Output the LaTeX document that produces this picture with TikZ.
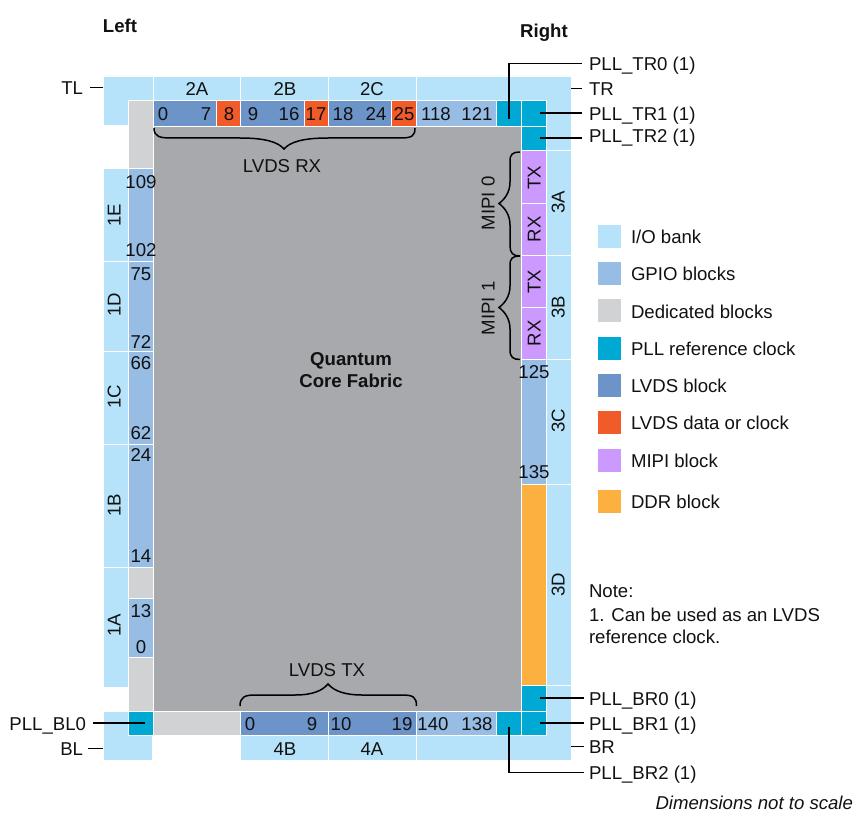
\documentclass[tikz,border=0pt]{standalone}
\usepackage{fontspec}
\setmainfont{Liberation Sans}
\definecolor{iob}{HTML}{B6E3F9}
\definecolor{gpio}{HTML}{97BDE5}
\definecolor{ded}{HTML}{D0D2D3}
\definecolor{pll}{HTML}{00A9D4}
\definecolor{lvds}{HTML}{6D94C8}
\definecolor{dat}{HTML}{F15A29}
\definecolor{mipi}{HTML}{CC99FF}
\definecolor{ddr}{HTML}{FBB040}
\definecolor{core}{HTML}{A7A9AC}
\definecolor{ink}{HTML}{111111}
\tikzset{
  cellbox/.style={draw=white,line width=0.8pt,inner sep=0pt,outer sep=0pt,anchor=center},
  poly/.style={draw=white,line width=0.8pt},
  txt/.style={inner sep=0pt,outer sep=0pt,yshift=-0.5pt,font=\fontsize{18.6}{22}\selectfont,text=ink,text height=13.3pt,text depth=0pt},
  num/.style={txt},
  vert/.style={txt,rotate=90},
  lab/.style={txt,anchor=west,inner xsep=7pt},
  labb/.style={txt,anchor=west,inner xsep=5pt},
  labl/.style={txt,anchor=east,inner xsep=7pt},
  bold/.style={txt,font=\fontsize{18.6}{22}\selectfont\bfseries},
  conn/.style={draw=black,line width=1.6pt},
  brc/.style={draw=black,line width=1.5pt}
}
\newcommand\cell[6]{\node[cellbox,fill=#6,minimum width={(#4-#2)*1pt},minimum height={(#5-#3)*1pt}] (#1) at ({(#2+#4)/2},{(#3+#5)/2}) {};}
\newcommand\lbl[5][num]{\node[#1] (#2) at (#3,#4) {#5};}
\begin{document}
\begin{tikzpicture}[x=1pt,y=-1pt]
\useasboundingbox (0,0) rectangle (854,813);
% core
\cell{corefab}{153.5}{126}{521.5}{711}{core}
% I/O banks: corners as polygons
\path[poly,fill=iob] (103,76) -- (153,76) -- (153,100.5) -- (128,100.5) -- (128,125) -- (103,125) -- cycle;
\path[poly,fill=iob] (103,711) -- (128,711) -- (128,735.5) -- (152.5,735.5) -- (152.5,760) -- (103,760) -- cycle;
\path[poly,fill=iob] (416.5,76) -- (571,76) -- (571,150.5) -- (546.5,150.5) -- (546.5,100.5) -- (416.5,100.5) -- cycle;
\path[poly,fill=iob] (546.5,685.5) -- (571,685.5) -- (571,760) -- (416.5,760) -- (416.5,735.5) -- (546.5,735.5) -- cycle;
\cell{b2A}{153}{76}{240.5}{100.5}{iob}
\cell{b2B}{240.5}{76}{328.5}{100.5}{iob}
\cell{b2C}{328.5}{76}{416.5}{100.5}{iob}
\cell{b1E}{103}{168.5}{128}{261}{iob}
\cell{b1D}{103}{261}{128}{351.5}{iob}
\cell{b1C}{103}{351.5}{128}{444}{iob}
\cell{b1B}{103}{444}{128}{567.5}{iob}
\cell{b1A}{103}{567.5}{128}{687}{iob}
\cell{b3A}{546.5}{150.5}{571}{255.5}{iob}
\cell{b3B}{546.5}{255.5}{571}{359.5}{iob}
\cell{b3C}{546.5}{359.5}{571}{484}{iob}
\cell{b3D}{546.5}{484}{571}{685.5}{iob}
\cell{b4B}{240.5}{735.5}{328.5}{760}{iob}
\cell{b4A}{328.5}{735.5}{416.5}{760}{iob}
% top row
\cell{dTL}{128}{100.5}{153}{168.5}{ded}
\cell{t0}{153}{100.5}{216}{126}{lvds}
\cell{t8}{216}{100.5}{240.5}{126}{dat}
\cell{t9}{240.5}{100.5}{304}{126}{lvds}
\cell{t17}{304}{100.5}{328.5}{126}{dat}
\cell{t18}{328.5}{100.5}{391.5}{126}{lvds}
\cell{t25}{391.5}{100.5}{416.5}{126}{dat}
\cell{t118}{416.5}{100.5}{496.5}{126}{gpio}
\cell{pTR0}{496.5}{100.5}{521.5}{126}{pll}
\cell{pTR1}{521.5}{100.5}{546.5}{126}{pll}
\cell{pTR2}{521.5}{126}{546.5}{150.5}{pll}
% left column
\cell{gL}{128}{168.5}{153}{261}{gpio}
\cell{gLa}{128}{261}{153}{351.5}{gpio}
\cell{gLb}{128}{351.5}{153}{444}{gpio}
\cell{gLc}{128}{444}{153}{567.5}{gpio}
\cell{dL1}{128}{567.5}{153}{598}{ded}
\cell{gL2}{128}{598}{153}{657.5}{gpio}
\cell{dL2}{128}{657.5}{153}{711}{ded}
\cell{pBL0}{128}{711}{153}{735.5}{pll}
% bottom row
\cell{dB}{153}{711}{240.5}{735.5}{ded}
\cell{l0}{240.5}{711}{328.5}{735.5}{lvds}
\cell{l10}{328.5}{711}{416.5}{735.5}{lvds}
\cell{g140}{416.5}{711}{496.5}{735.5}{gpio}
\cell{pBR2}{496.5}{711}{521.5}{735.5}{pll}
\cell{pBR1}{521.5}{711}{546.5}{735.5}{pll}
\cell{pBR0}{521.5}{685.5}{546.5}{711}{pll}
% right column
\cell{m1}{521.5}{150.5}{546.5}{203.5}{mipi}
\cell{m2}{521.5}{203.5}{546.5}{255.5}{mipi}
\cell{m3}{521.5}{255.5}{546.5}{307.5}{mipi}
\cell{m4}{521.5}{307.5}{546.5}{359.5}{mipi}
\cell{gR}{521.5}{359.5}{546.5}{484}{gpio}
\cell{ddrb}{521.5}{484}{546.5}{685.5}{ddr}
% top numbers
\lbl{n0}{163}{113}{0}\lbl{n7}{206}{113}{7}\lbl{n8}{229}{113}{8}
\lbl{n9}{253}{113}{9}\lbl{n16}{289}{113}{16}\lbl{n17}{316}{113}{17}
\lbl{n18}{343}{113}{18}\lbl{n24}{376}{113}{24}\lbl{n25}{404}{113}{25}
\lbl{n118}{436}{113}{118}\lbl{n121}{477}{113}{121}
% left numbers
\lbl{n109}{141}{181}{109}\lbl{n102}{141}{249}{102}\lbl{n75}{141}{273}{75}
\lbl{n72}{141}{341}{72}\lbl{n66}{141}{362}{66}\lbl{n62}{141}{432}{62}
\lbl{n24b}{141}{454}{24}\lbl{n14}{141}{555}{14}\lbl{n13}{141}{610}{13}\lbl{n0b}{141}{646}{0}
% right numbers
\lbl{n125}{534}{371}{125}\lbl{n135}{534}{471}{135}
% bottom numbers
\lbl{n0c}{250}{723}{0}\lbl{n9b}{312}{723}{9}\lbl{n10}{341}{723}{10}\lbl{n19}{402}{723}{19}
\lbl{n140}{433}{723}{140}\lbl{n138}{477}{723}{138}
% bank labels
\lbl{t2A}{197}{88}{2A}\lbl{t2B}{285}{88}{2B}\lbl{t2C}{372}{88}{2C}
\lbl{t4B}{285}{748}{4B}\lbl{t4A}{372}{748}{4A}
\lbl[vert]{t1E}{114}{215}{1E}\lbl[vert]{t1D}{114}{304}{1D}\lbl[vert]{t1C}{114}{396}{1C}
\lbl[vert]{t1B}{114}{505}{1B}\lbl[vert]{t1A}{114}{625}{1A}
\lbl[vert]{t3A}{558}{202}{3A}\lbl[vert]{t3B}{558}{307}{3B}\lbl[vert]{t3C}{558}{420}{3C}\lbl[vert]{t3D}{558}{584}{3D}
\lbl[vert]{tx0}{534}{177}{TX}\lbl[vert]{rx0}{534}{229}{RX}\lbl[vert]{tx1}{534}{281}{TX}\lbl[vert]{rx1}{534}{333}{RX}
\lbl[vert]{mipi0}{488}{203}{MIPI 0}\lbl[vert]{mipi1}{488}{308}{MIPI 1}
\lbl{lvdsrx}{282}{165}{LVDS RX}\lbl{lvdstx}{327}{669}{LVDS TX}
\lbl[bold]{lefth}{120}{25}{Left}\lbl[bold]{righth}{544}{30}{Right}
\lbl[bold]{q1}{351}{358}{Quantum}\lbl[bold]{q2}{351}{380}{Core Fabric}
% braces
\draw[brc] (154,128) .. controls (154,137) and (160,138) .. (172,138) -- (240,138) .. controls (265,138) and (278,142) .. (284,149) .. controls (290,142) and (303,138) .. (328,138) -- (400,138) .. controls (412,138) and (415,136) .. (415,128);
\draw[brc] (240,706) .. controls (240,697) and (245,695) .. (255,695) -- (295,695) .. controls (312,695) and (322,691) .. (328,684) .. controls (334,691) and (345,695) .. (362,695) -- (402,695) .. controls (413,695) and (416.5,697) .. (416.5,706);
\draw[brc] (520,152) .. controls (513,152) and (510,154) .. (510,161) -- (510,182) .. controls (510,192) and (505,199) .. (499,203.5) .. controls (505,208) and (510,215) .. (510,225) -- (510,246) .. controls (510,253) and (513,256) .. (520,256);
\draw[brc] (520,256) .. controls (513,256) and (510,258) .. (510,265) -- (510,286) .. controls (510,296) and (505,303) .. (499,307.5) .. controls (505,312) and (510,319) .. (510,329) -- (510,350) .. controls (510,357) and (513,359.5) .. (520,359.5);
% external labels
\lbl[lab]{lTR0}{582}{63}{PLL\_TR0 (1)}
\lbl[lab]{lTR}{582}{88}{TR}
\lbl[lab]{lTR1}{582}{113}{PLL\_TR1 (1)}
\lbl[lab]{lTR2}{582}{135}{PLL\_TR2 (1)}
\lbl[labb]{lBR0}{584}{698}{PLL\_BR0 (1)}
\lbl[labb]{lBR1}{584}{723}{PLL\_BR1 (1)}
\lbl[labb]{lBR}{584}{746}{BR}
\lbl[labb]{lBR2}{584}{772}{PLL\_BR2 (1)}
\lbl[labl]{lTL}{90}{87}{TL}
\lbl[txt,anchor=east,inner xsep=5pt]{lBL}{88}{748}{BL}
\lbl[labl]{lBL0}{93}{723}{PLL\_BL0}
% connectors
\draw[conn] ([yshift=-6pt]pTR0.center) |- (lTR0.west);
\draw[conn] (b1E.north west |- lTL.east) -- (lTL.east);
\draw[conn] (b3A.north east |- lTR.west) -- (lTR.west);
\draw[conn] ([xshift=6pt]pTR1.center) -- (pTR1.center -| lTR1.west);
\draw[conn] ([xshift=6pt]pTR2.center) -- (pTR2.center -| lTR2.west);
\draw[conn] ([xshift=6pt]pBR0.center) -- (pBR0.center -| lBR0.west);
\draw[conn] ([xshift=6pt]pBR1.center) -- (pBR1.center -| lBR1.west);
\draw[conn] (b3D.north east |- lBR.west) -- (lBR.west);
\draw[conn] ([yshift=-4pt]pBR2.center) |- (lBR2.west);
\draw[conn] ([xshift=4pt]pBL0.center) -- (pBL0.center -| lBL0.east);
\draw[conn] (b1A.south west |- lBL.east) -- (lBL.east);
% legend
\cell{k1}{597}{224}{621}{248}{iob}
\cell{k2}{597}{261}{621}{285}{gpio}
\cell{k3}{597}{298.5}{621}{322.5}{ded}
\cell{k4}{597}{336}{621}{360}{pll}
\cell{k5}{597}{373}{621}{397}{lvds}
\cell{k6}{597}{410}{621}{434}{dat}
\cell{k7}{597}{448}{621}{472}{mipi}
\cell{k8}{597}{489.5}{621}{513.5}{ddr}
\tikzset{leg/.style={txt,anchor=west}}
\lbl[leg]{e1}{631}{236}{I/O bank}
\lbl[leg]{e2}{631}{273}{GPIO blocks}
\lbl[leg]{e3}{631}{311}{Dedicated blocks}
\lbl[leg]{e4}{631}{348}{PLL reference clock}
\lbl[leg]{e5}{631}{385}{LVDS block}
\lbl[leg]{e6}{631}{422}{LVDS data or clock}
\lbl[leg]{e7}{631}{460}{MIPI block}
\lbl[leg]{e8}{631}{501}{DDR block}
% note
\lbl[leg]{note1}{589}{590}{Note:}
\lbl[leg]{note2}{589}{614}{1. Can be used as an LVDS}
\lbl[leg]{note3}{589}{636}{reference clock.}
\node[txt,anchor=east,font=\fontsize{18.6}{22}\selectfont\itshape] (dims) at (853,802.5) {Dimensions not to scale};
\end{tikzpicture}
\end{document}
